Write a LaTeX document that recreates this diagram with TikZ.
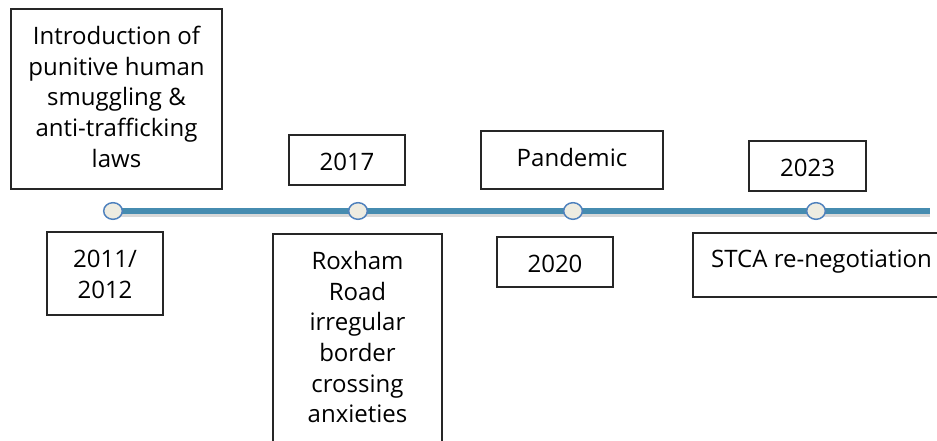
\documentclass[tikz,border=0pt]{standalone}
\usepackage{fontspec}
\setmainfont{Open Sans}
\usetikzlibrary{shapes.geometric}
\definecolor{lineblue}{RGB}{70,140,176}
\definecolor{dotfill}{RGB}{238,236,225}
\definecolor{dotdraw}{RGB}{79,129,189}
\tikzset{
  frame/.style={draw=black!85, line width=0.8pt, inner sep=0pt},
  txt/.style={align=center, inner sep=0pt, font=\fontsize{18}{23}\selectfont},
  dot/.style={ellipse, draw=dotdraw, fill=dotfill, line width=1.1pt,
    minimum width=14pt, minimum height=12.5pt, inner sep=0pt}
}
\begin{document}
\begin{tikzpicture}[x=0.75pt, y=-0.75pt]
\useasboundingbox (0,0) rectangle (937,441);
\clip (0,0) rectangle (937,441);
% timeline
\coordinate (tl-start) at (113,211);
\coordinate (tl-end) at (930,211);
\draw[line width=4.5pt, black!30, opacity=0.5] ([yshift=-2.5pt]tl-start) -- ([yshift=-2.5pt]tl-end);
\draw[line width=4.5pt, lineblue] (tl-start) -- (tl-end);
\node[dot] (d2011) at (113,211) {};
\node[dot] (d2017) at (358,211) {};
\node[dot] (d2020) at (573,211) {};
\node[dot] (d2023) at (816,211) {};
% boxes above and below the line (text hangs from the top, base = last line)
\node[frame, minimum width=158.25pt, minimum height=135pt] (fintro) at (116.5,99) {};
\node[txt, anchor=base] (lintro) at ([yshift=-119pt]fintro.north) {Introduction of\\punitive human\\smuggling \&\\anti-trafficking\\laws};
\node[frame, minimum width=87pt, minimum height=62.25pt] (f2011) at (105,273.5) {};
\node[txt, anchor=base] (l2011) at ([yshift=-50pt]f2011.north) {2011/\\2012};
\node[frame, minimum width=87pt, minimum height=37.5pt] (f2017) at (347,160) {};
\node[txt, anchor=base] (l2017) at ([yshift=-27pt]f2017.north) {2017};
\node[frame, minimum width=126.75pt, minimum height=169.5pt] (froxham) at (357.5,347) {};
\node[txt, anchor=base] (lroxham) at ([yshift=-142pt]froxham.north) {Roxham\\Road\\irregular\\border\\crossing\\anxieties};
\node[frame, minimum width=136.5pt, minimum height=43.5pt] (fpandemic) at (572,160) {};
\node[txt, anchor=base] (lpandemic) at ([yshift=-27pt]fpandemic.north) {Pandemic};
\node[frame, minimum width=87pt, minimum height=37.5pt] (f2020) at (555,262) {};
\node[txt, anchor=base] (l2020) at ([yshift=-27pt]f2020.north) {2020};
\node[frame, minimum width=87.75pt, minimum height=37.5pt] (f2023) at (807.5,166) {};
\node[txt, anchor=base] (l2023) at ([yshift=-27pt]f2023.north) {2023};
\node[frame, minimum width=192.75pt, minimum height=48pt] (fstca) at (821.5,265) {};
\node[txt, anchor=base] (lstca) at ([yshift=-26.5pt]fstca.north) {STCA re-negotiation};
\end{tikzpicture}
\end{document}
